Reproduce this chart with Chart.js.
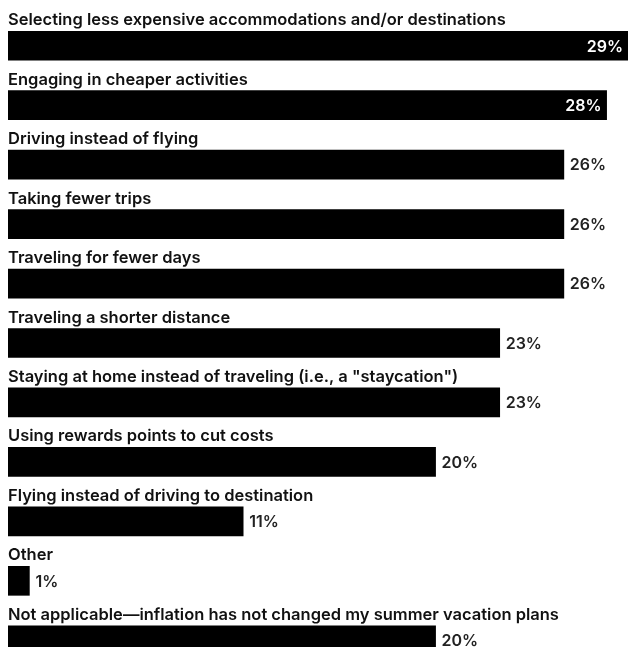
<!DOCTYPE html>
<html>
<head>
<meta charset="utf-8">
<script src="https://cdn.jsdelivr.net/npm/chart.js@4.4.0/dist/chart.umd.min.js"></script>
<style>
  html, body { margin: 0; padding: 0; background: #fff; overflow: hidden; }
  #wrap { width: 628px; height: 680px; }
</style>
</head>
<body>
<div id="wrap"><canvas id="chart" width="628" height="680"></canvas></div>
<script>
// survey answers, top to bottom
const categories = [
    'Selecting less expensive accommodations and/or destinations',
    'Engaging in cheaper activities',
    'Driving instead of flying',
    'Taking fewer trips',
    'Traveling for fewer days',
    'Traveling a shorter distance',
    'Staying at home instead of traveling (i.e., a "staycation")',
    'Using rewards points to cut costs',
    'Flying instead of driving to destination',
    'Other',
    'Not applicable\u2014inflation has not changed my summer vacation plans'
];
const shares = [29, 28, 26, 26, 26, 23, 23, 20, 11, 1, 20];
const insideLabels = [true, true, false, false, false, false, false, false, false, false, false];

const labelFont = '600 16.5px Inter, "Open Sans", sans-serif';
const valueFont = '600 16px Inter, "Open Sans", sans-serif';

// draws the answer text above each bar and the % at (or inside) its end
const barText = {
    id: 'barText',
    afterDatasetsDraw(chart) {
        const ctx = chart.ctx;
        const meta = chart.getDatasetMeta(0);
        ctx.save();
        meta.data.forEach((bar, i) => {
            const top = bar.y - bar.height / 2;
            ctx.font = labelFont;
            ctx.fillStyle = '#111';
            ctx.textAlign = 'left';
            ctx.textBaseline = 'alphabetic';
            ctx.fillText(categories[i], bar.base, top - 6);

            ctx.font = valueFont;
            ctx.textBaseline = 'middle';
            const txt = shares[i] + '%';
            if (insideLabels[i]) {
                ctx.fillStyle = '#fff';
                ctx.textAlign = 'right';
                ctx.fillText(txt, bar.x - 5, bar.y + 1);
            } else {
                ctx.fillStyle = '#222';
                ctx.textAlign = 'left';
                ctx.fillText(txt, bar.x + 6, bar.y + 1);
            }
        });
        ctx.restore();
    }
};

new Chart(document.getElementById('chart'), {
    type: 'bar',
    data: {
        labels: categories,
        datasets: [{
            data: shares,
            backgroundColor: '#000',
            borderWidth: 0,
            barThickness: 29
        }]
    },
    options: {
        indexAxis: 'y',
        responsive: false,
        animation: false,
        layout: { padding: { left: 8, right: 0, top: 16, bottom: 10 } },
        plugins: { legend: { display: false }, tooltip: { enabled: false } },
        scales: {
            x: { display: false, min: 0, max: 29 },
            y: { display: false }
        }
    },
    plugins: [barText]
});
</script>
</body>
</html>
